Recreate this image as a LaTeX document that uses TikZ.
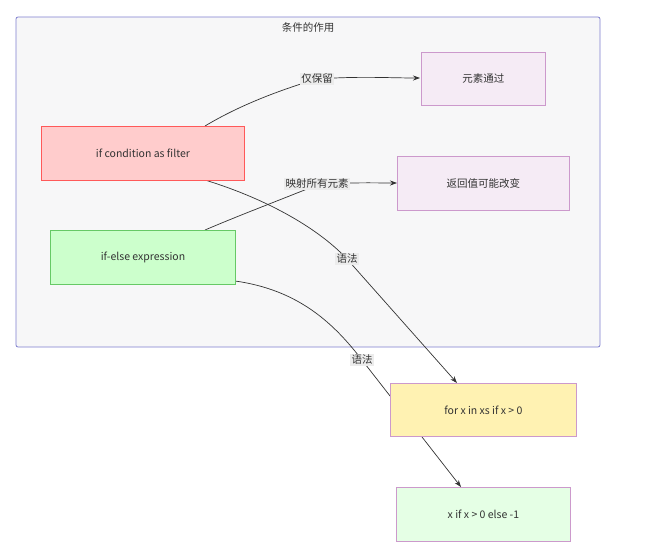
\documentclass[tikz,border=0pt]{standalone}
\usepackage{fontspec}
\setmainfont{Noto Sans CJK SC}
\usetikzlibrary{arrows.meta}
\begin{document}
\begin{tikzpicture}[x=1pt,y=-1pt,font=\fontsize{10.5}{12}\selectfont,
  box/.style={draw=#1,line width=0.9pt,anchor=north west,inner sep=0pt,text=black!80},
  lav/.style={box=violet!40,fill=violet!8},
  edge/.style={draw=black!80,line width=0.7pt,-{Stealth[length=7pt,width=5pt]}},
  lbl/.style={fill=gray!15,inner sep=1.5pt,text=black!80}]
\useasboundingbox (0,0) rectangle (664,547);
\draw[draw=blue!45!gray!70,fill=blue!4!gray!6,rounded corners=2pt,line width=0.8pt] (16,17) rectangle (600,347);
\node[text=black!80] (title) at (308,28) {条件的作用};
% coordinates
\coordinate (fA) at (205,126);
\coordinate (fB) at (205,180);
\coordinate (eA) at (205,230);
\coordinate (eB) at (235,281);
% edges
\draw[edge] (fA) .. controls (240,105) and (280,90) .. (317,79) .. controls (360,76) and (390,78) .. (420,78);
\draw[edge] (eA) .. controls (240,215) and (280,200) .. (317,185) .. controls (350,182) and (375,183) .. (397,183);
\draw[edge] (fB) .. controls (270,200) and (320,230) .. (347,259) -- (457,383);
\draw[edge] (eB) .. controls (300,290) and (335,325) .. (362,360) -- (461,487);
% nodes
\node[lav,minimum width=124,minimum height=53] (pass) at (421,52) {元素通过};
\node[box=red!65,fill=red!20,minimum width=203,minimum height=54] (filt) at (41,126) {if condition as filter};
\node[lav,minimum width=172,minimum height=54] (ret) at (397,156) {返回值可能改变};
\node[box=green!65!black!60,fill=green!20,minimum width=185,minimum height=54] (ife) at (50,230) {if-else expression};
\node[box=violet!40,fill=orange!35!yellow!30,minimum width=186,minimum height=53] (for) at (390,383) {for x in xs if x > 0};
\node[box=violet!40,fill=green!10,minimum width=174,minimum height=54] (xif) at (396,487) {x if x > 0 else -1};
% labels
\node[lbl] (l1) at (317,79) {仅保留};
\node[lbl] (l2) at (317,184) {映射所有元素};
\node[lbl] (l3) at (347,259) {语法};
\node[lbl] (l4) at (362,360) {语法};
\end{tikzpicture}
\end{document}
